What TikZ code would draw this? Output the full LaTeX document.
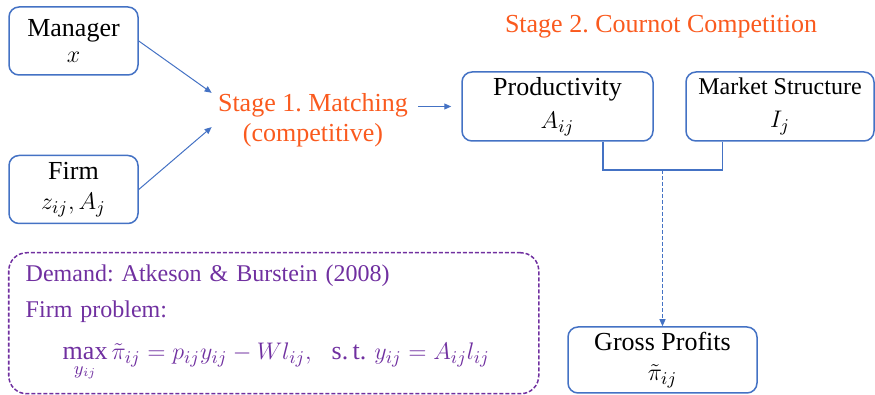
\documentclass[tikz,border=0pt]{standalone}
\usepackage{amsmath}
\usepackage{fontspec}
\setmainfont{Liberation Serif}
\usetikzlibrary{arrows.meta,positioning}
\definecolor{boxblue}{RGB}{68,114,196}
\definecolor{stageorange}{RGB}{250,90,30}
\definecolor{notepurple}{RGB}{112,48,160}
\tikzset{
  box/.style={draw=boxblue, line width=0.75pt, rounded corners=5pt, align=center,
    inner sep=0pt, minimum width=64.5pt, minimum height=34pt},
  stagelbl/.style={text=stageorange, align=center},
  link/.style={draw=boxblue, line width=0.5pt, -{Triangle[length=3.5pt,width=3pt]}},
}
\frenchspacing
\begin{document}
\begin{tikzpicture}[x=0.5pt,y=-0.5pt,font=\fontsize{13}{15}\selectfont]
\useasboundingbox (0,0) rectangle (875,395);
% stage 1
\node[box] (mgr) at (73.5,41) {Manager\\[-2pt]$x$};
\node[box] (firm)[node distance=74.25pt, below of=mgr] {Firm\\$z_{ij},A_j$};
\node[stagelbl, inner sep=3pt] (stage1) at (313,120) {Stage 1. Matching\\(competitive)};
\draw[link] (mgr.east) -- (stage1.165);
\draw[link] (firm.east) -- (stage1.184);
% stage 2
\node[stagelbl] (stage2) at (661,27) {Stage 2. Cournot Competition};
\node[box, minimum width=95.5pt, minimum height=34.5pt] (prod) at (557.5,106.5) {Productivity\\[1.5pt]$A_{ij}$};
\node[box, minimum width=94pt, minimum height=34.5pt] (mkt)[node distance=111.25pt, right of=prod]
  {\fontsize{12}{15}\selectfont Market Structure\\[1.5pt]$I_j$};
\node[box, minimum width=94.5pt, minimum height=33pt] (gross) at (662.5,360) {Gross Profits\\$\tilde{\pi}_{ij}$};
\draw[link, shorten <=2pt, shorten >=5pt] (stage1.east |- prod.west) -- (prod.west);
\coordinate (join) at (662.5,170);
\draw[boxblue, line width=0.75pt] ([xshift=22.75pt]prod.south) |- (join) -| ([xshift=-28.75pt]mkt.south);
\draw[link, dash pattern=on 2pt off 1pt] (join) -- (gross.north);
% demand side
\node[draw=notepurple, line width=0.75pt, dash pattern=on 2pt off 1pt, rounded corners=9pt,
  text=notepurple, align=left, anchor=north west, text width=248pt, inner xsep=8.5pt,
  minimum height=70.5pt, font=\fontsize{12}{15}\selectfont] (demand) at (8,252)
  {Demand: Atkeson \& Burstein (2008)\\[3pt]
   Firm problem:\\[6pt]
   \hspace*{18.5pt}\fontsize{13}{15}\selectfont$\max\limits_{y_{ij}}\tilde{\pi}_{ij} = p_{ij}y_{ij} - W l_{ij},\ \ \mbox{s.\,t.}\ y_{ij} = A_{ij}l_{ij}$};
\end{tikzpicture}
\end{document}
